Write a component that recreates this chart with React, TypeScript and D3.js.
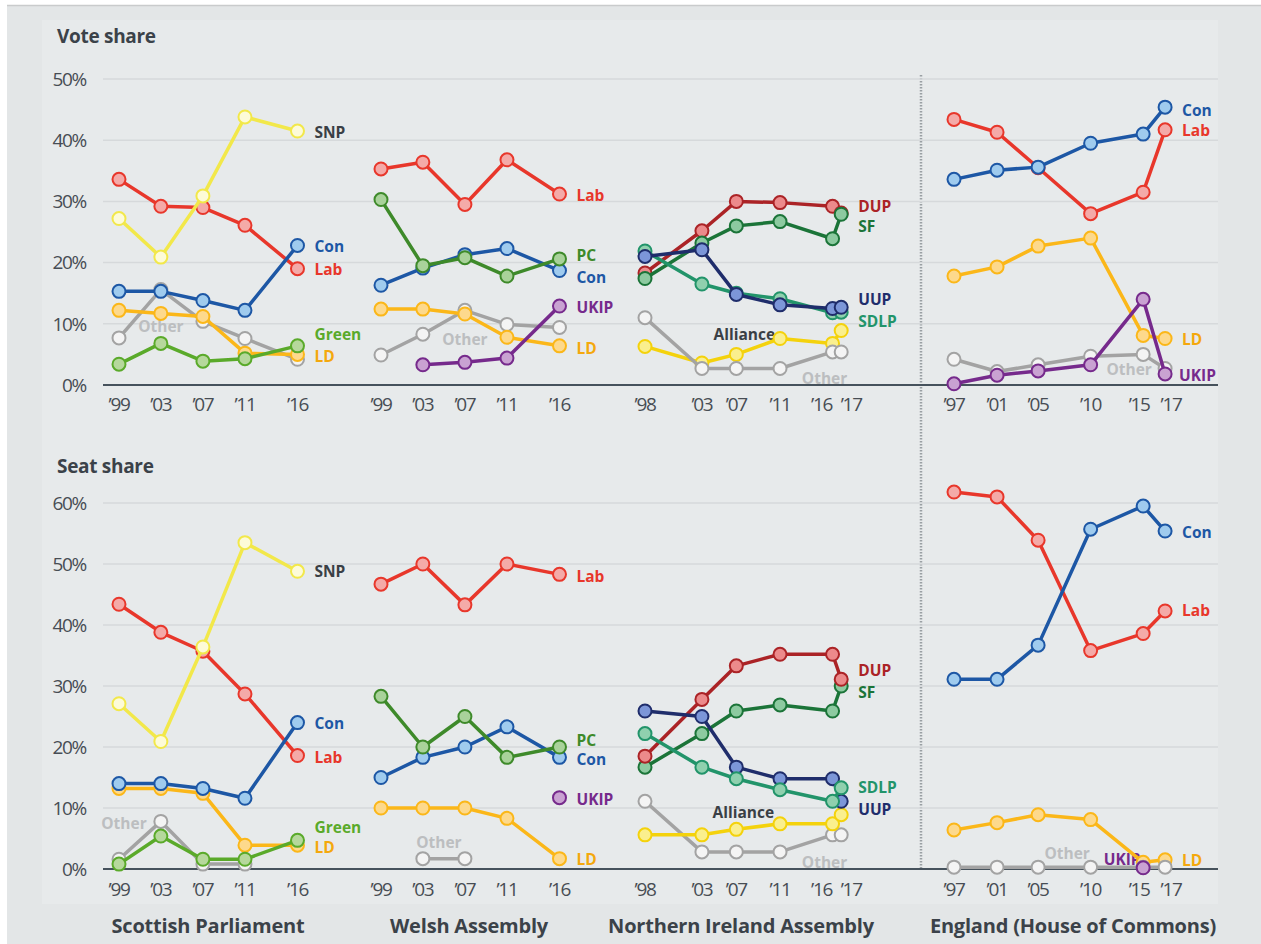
import React from 'react';
import * as d3 from 'd3';

// election dates per body
const scotDates = ['1999-05-06', '2003-05-01', '2007-05-03', '2011-05-05', '2016-05-05'];
const walesDates = ['1999-05-06', '2003-05-01', '2007-05-03', '2011-05-05', '2016-05-05'];
const niDates = ['1998-06-25', '2003-11-26', '2007-03-07', '2011-05-05', '2016-05-05', '2017-03-02'];
const engDates = ['1997-05-01', '2001-06-07', '2005-05-05', '2010-05-06', '2015-05-07', '2017-06-08'];

const scotTicks = ['’99', '’03', '’07', '’11', '’16'];
const walesTicks = ['’99', '’03', '’07', '’11', '’16'];
const niTicks = ['’98', '’03', '’07', '’11', '’16', '’17'];
const engTicks = ['’97', '’01', '’05', '’10', '’15', '’17'];

const voteTicks = [0, 10, 20, 30, 40, 50];
const seatTicks = [0, 10, 20, 30, 40, 50, 60];

// vote share (%)
const scotVoteOther = [7.7, 15.6, 10.4, 7.6, 4.2];
const scotVoteLD = [12.2, 11.7, 11.2, 5.2, 5.0];
const scotVoteGreen = [3.4, 6.8, 3.9, 4.3, 6.4];
const scotVoteLab = [33.6, 29.2, 29.0, 26.1, 19.0];
const scotVoteSNP = [27.2, 20.9, 30.9, 43.8, 41.5];
const scotVoteCon = [15.3, 15.3, 13.8, 12.2, 22.8];

const walesVoteOther = [4.9, 8.3, 12.2, 9.9, 9.4];
const walesVoteLD = [12.4, 12.4, 11.6, 7.8, 6.4];
const walesVoteCon = [16.3, 19.1, 21.3, 22.3, 18.7];
const walesVotePC = [30.3, 19.5, 20.8, 17.8, 20.6];
const walesVoteLab = [35.3, 36.4, 29.5, 36.8, 31.2];
const walesVoteUKIP = [null, 3.3, 3.7, 4.4, 12.9];

const niVoteAlliance = [6.3, 3.6, 5.0, 7.6, 6.8, 8.9];
const niVoteOther = [11.0, 2.7, 2.7, 2.7, 5.4, 5.4];
const niVoteDUP = [18.3, 25.2, 30.0, 29.8, 29.2, 28.1];
const niVoteSF = [17.4, 23.2, 26.0, 26.7, 23.9, 27.9];
const niVoteSDLP = [21.9, 16.5, 15.0, 14.1, 11.8, 11.9];
const niVoteUUP = [21.0, 22.1, 14.8, 13.1, 12.5, 12.7];

const engVoteOther = [4.2, 2.2, 3.3, 4.7, 5.0, 2.7];
const engVoteLD = [17.8, 19.3, 22.7, 24.0, 8.1, 7.6];
const engVoteLab = [43.4, 41.3, 35.5, 28.0, 31.5, 41.7];
const engVoteCon = [33.6, 35.1, 35.6, 39.5, 41.0, 45.4];
const engVoteUKIP = [0.2, 1.6, 2.3, 3.3, 14.0, 1.8];

// seat share (%)
const scotSeatOther = [1.6, 7.8, 0.8, 0.8, null];
const scotSeatLD = [13.2, 13.2, 12.4, 3.9, 3.9];
const scotSeatGreen = [0.8, 5.4, 1.6, 1.6, 4.7];
const scotSeatLab = [43.4, 38.8, 35.7, 28.7, 18.6];
const scotSeatSNP = [27.1, 20.9, 36.4, 53.5, 48.8];
const scotSeatCon = [14.0, 14.0, 13.2, 11.6, 24.0];

const walesSeatOther = [null, 1.7, 1.7, null, null];
const walesSeatLD = [10.0, 10.0, 10.0, 8.3, 1.7];
const walesSeatCon = [15.0, 18.3, 20.0, 23.3, 18.3];
const walesSeatPC = [28.3, 20.0, 25.0, 18.3, 20.0];
const walesSeatLab = [46.7, 50.0, 43.3, 50.0, 48.3];
const walesSeatUKIP = [null, null, null, null, 11.7];

const niSeatOther = [11.1, 2.8, 2.8, 2.8, 5.6, 5.6];
const niSeatAlliance = [5.6, 5.6, 6.5, 7.4, 7.4, 8.9];
const niSeatSF = [16.7, 22.2, 25.9, 26.9, 25.9, 30.0];
const niSeatDUP = [18.5, 27.8, 33.3, 35.2, 35.2, 31.1];
const niSeatUUP = [25.9, 25.0, 16.7, 14.8, 14.8, 11.1];
const niSeatSDLP = [22.2, 16.7, 14.8, 13.0, 11.1, 13.3];

const engSeatLD = [6.4, 7.6, 8.9, 8.1, 1.1, 1.5];
const engSeatOther = [0.3, 0.3, 0.3, 0.3, 0.3, 0.3];
const engSeatUKIP = [null, null, null, null, 0.2, null];
const engSeatLab = [61.8, 61.0, 53.9, 35.8, 38.6, 42.3];
const engSeatCon = [31.1, 31.1, 36.7, 55.7, 59.5, 55.4];

const STYLE: Record<string, { line: string; fill: string; text: string }> = {
  Lab: { line: '#e8372b', fill: '#f4aaa8', text: '#e8372b' },
  Con: { line: '#1d57a5', fill: '#9fcbee', text: '#1d57a5' },
  SNP: { line: '#f2e84a', fill: '#fdfbd8', text: '#3a3f45' },
  LD: { line: '#fbb719', fill: '#fdd98c', text: '#f4a80d' },
  Green: { line: '#5aaa2a', fill: '#b6d89c', text: '#5aaa2a' },
  Other: { line: '#a3a3a3', fill: '#f4f4f4', text: '#bcbec0' },
  PC: { line: '#3e8a2a', fill: '#a9d29a', text: '#3e8a2a' },
  UKIP: { line: '#762a8c', fill: '#c9a2d2', text: '#762a8c' },
  DUP: { line: '#ab2326', fill: '#ec8a8b', text: '#ab2326' },
  SF: { line: '#1b7438', fill: '#8dcaa0', text: '#1b7438' },
  UUP: { line: '#1f2d6b', fill: '#7c96d8', text: '#1f2d6b' },
  SDLP: { line: '#22946a', fill: '#8fd0ae', text: '#22946a' },
  Alliance: { line: '#f4d20c', fill: '#faef8e', text: '#3a3f45' },
};

type Series = { party: string; values: (number | null)[] };
type Label = { text: string; party: string; at?: number; dx?: number; y: number; mid?: boolean };

const panels = [
  {
    title: 'Scottish Parliament', dates: scotDates, ticks: scotTicks, x0: 119, tickShift: [0, 0, 0, 0, 0],
    vote: [
      { party: 'Other', values: scotVoteOther }, { party: 'LD', values: scotVoteLD },
      { party: 'Green', values: scotVoteGreen }, { party: 'Lab', values: scotVoteLab },
      { party: 'SNP', values: scotVoteSNP }, { party: 'Con', values: scotVoteCon },
    ],
    voteLabels: [
      { text: 'SNP', party: 'SNP', y: 41.3 }, { text: 'Con', party: 'Con', y: 22.7 },
      { text: 'Lab', party: 'Lab', y: 18.8 }, { text: 'Green', party: 'Green', y: 8.3 },
      { text: 'LD', party: 'LD', y: 4.7 }, { text: 'Other', party: 'Other', at: 1, dx: 0, y: 9.6, mid: true },
    ],
    seat: [
      { party: 'Other', values: scotSeatOther }, { party: 'LD', values: scotSeatLD },
      { party: 'Green', values: scotSeatGreen }, { party: 'Lab', values: scotSeatLab },
      { party: 'SNP', values: scotSeatSNP }, { party: 'Con', values: scotSeatCon },
    ],
    seatLabels: [
      { text: 'SNP', party: 'SNP', y: 48.7 }, { text: 'Con', party: 'Con', y: 23.8 },
      { text: 'Lab', party: 'Lab', y: 18.2 }, { text: 'Green', party: 'Green', y: 6.8 },
      { text: 'LD', party: 'LD', y: 3.5 }, { text: 'Other', party: 'Other', at: 0, dx: 5, y: 7.4, mid: true },
    ],
  },
  {
    title: 'Welsh Assembly', dates: walesDates, ticks: walesTicks, x0: 381, tickShift: [0, 0, 0, 0, 0],
    vote: [
      { party: 'Other', values: walesVoteOther }, { party: 'LD', values: walesVoteLD },
      { party: 'Con', values: walesVoteCon }, { party: 'PC', values: walesVotePC },
      { party: 'Lab', values: walesVoteLab }, { party: 'UKIP', values: walesVoteUKIP },
    ],
    voteLabels: [
      { text: 'Lab', party: 'Lab', y: 31.0 }, { text: 'PC', party: 'PC', y: 21.1 },
      { text: 'Con', party: 'Con', y: 17.6 }, { text: 'UKIP', party: 'UKIP', y: 12.7 },
      { text: 'LD', party: 'LD', y: 6.0 }, { text: 'Other', party: 'Other', at: 2, dx: 0, y: 7.4, mid: true },
    ],
    seat: [
      { party: 'Other', values: walesSeatOther }, { party: 'LD', values: walesSeatLD },
      { party: 'Con', values: walesSeatCon }, { party: 'PC', values: walesSeatPC },
      { party: 'Lab', values: walesSeatLab }, { party: 'UKIP', values: walesSeatUKIP },
    ],
    seatLabels: [
      { text: 'Lab', party: 'Lab', y: 48.0 }, { text: 'PC', party: 'PC', y: 21.1 },
      { text: 'Con', party: 'Con', y: 17.9 }, { text: 'UKIP', party: 'UKIP', y: 11.3 },
      { text: 'LD', party: 'LD', y: 1.5 }, { text: 'Other', party: 'Other', at: 1, dx: 16, y: 4.3, mid: true },
    ],
  },
  {
    title: 'Northern Ireland Assembly', dates: niDates, ticks: niTicks, x0: 645, tickShift: [0, 0, 0, 0, -11, 10],
    vote: [
      { party: 'Alliance', values: niVoteAlliance }, { party: 'Other', values: niVoteOther },
      { party: 'DUP', values: niVoteDUP }, { party: 'SF', values: niVoteSF },
      { party: 'SDLP', values: niVoteSDLP }, { party: 'UUP', values: niVoteUUP },
    ],
    voteLabels: [
      { text: 'DUP', party: 'DUP', y: 29.1 }, { text: 'SF', party: 'SF', y: 25.9 },
      { text: 'UUP', party: 'UUP', y: 13.9 }, { text: 'SDLP', party: 'SDLP', y: 10.3 },
      { text: 'Alliance', party: 'Alliance', at: 2, dx: 8, y: 8.2, mid: true },
      { text: 'Other', party: 'Other', at: 4, dx: -8, y: 1.1, mid: true },
    ],
    seat: [
      { party: 'Other', values: niSeatOther }, { party: 'Alliance', values: niSeatAlliance },
      { party: 'SF', values: niSeatSF }, { party: 'DUP', values: niSeatDUP },
      { party: 'UUP', values: niSeatUUP }, { party: 'SDLP', values: niSeatSDLP },
    ],
    seatLabels: [
      { text: 'DUP', party: 'DUP', y: 32.5 }, { text: 'SF', party: 'SF', y: 28.9 },
      { text: 'SDLP', party: 'SDLP', y: 13.4 }, { text: 'UUP', party: 'UUP', y: 9.7 },
      { text: 'Alliance', party: 'Alliance', at: 2, dx: 7, y: 9.3, mid: true },
      { text: 'Other', party: 'Other', at: 4, dx: -8, y: 1.0, mid: true },
    ],
  },
  {
    title: 'England (House of Commons)', dates: engDates, ticks: engTicks, x0: 954, tickShift: [0, 0, 0, 0, -4, 6],
    vote: [
      { party: 'Other', values: engVoteOther }, { party: 'LD', values: engVoteLD },
      { party: 'Lab', values: engVoteLab }, { party: 'Con', values: engVoteCon },
      { party: 'UKIP', values: engVoteUKIP },
    ],
    voteLabels: [
      { text: 'Con', party: 'Con', y: 44.9 }, { text: 'Lab', party: 'Lab', y: 41.5 },
      { text: 'LD', party: 'LD', y: 7.4 }, { text: 'UKIP', party: 'UKIP', y: 1.6, dx: -3 },
      { text: 'Other', party: 'Other', at: 4, dx: -14, y: 2.5, mid: true },
    ],
    seat: [
      { party: 'LD', values: engSeatLD }, { party: 'Other', values: engSeatOther },
      { party: 'UKIP', values: engSeatUKIP }, { party: 'Lab', values: engSeatLab },
      { party: 'Con', values: engSeatCon },
    ],
    seatLabels: [
      { text: 'Con', party: 'Con', y: 55.2 }, { text: 'Lab', party: 'Lab', y: 42.3 },
      { text: 'LD', party: 'LD', y: 1.3 },
      { text: 'UKIP', party: 'UKIP', at: 4, dx: -21, y: 1.6, mid: true },
      { text: 'Other', party: 'Other', at: 2, dx: 29, y: 2.6, mid: true },
    ],
  },
];

const W = 1261;
const H = 944;
const YEAR_PX = 10.5;
const GRID_X0 = 103;
const GRID_X1 = 1218;
const FONT = '"Open Sans", sans-serif';
const INK = '#3b4249';
const TICK_INK = '#474d54';
const titleX = [208, 469, 741, 1073];

const parse = d3.timeParse('%Y-%m-%d');

function makeX(dates: string[], x0: number) {
  const d = dates.map(s => parse(s) as Date);
  const first = d[0];
  const last = d[d.length - 1];
  const years = (+last - +first) / (365.25 * 864e5);
  return d3.scaleTime().domain([first, last]).range([x0, x0 + years * YEAR_PX]);
}

function Row({ top, bottom, max, ticks, heading, headingY, seriesKey, labelKey, tickY }: any) {
  const y = d3.scaleLinear().domain([0, max]).range([bottom, top]);
  return (
    <g>
      <text x={57} y={headingY} dy="0.35em" fontSize={19} fontWeight={700} fill={INK} fontFamily={FONT}
        letterSpacing={-0.3}>{heading}</text>
      {ticks.map((t: number) => (
        <g key={t}>
          {t > 0 && <line x1={GRID_X0} x2={GRID_X1} y1={y(t)} y2={y(t)} stroke="#d6d9db" strokeWidth={1.5} />}
          <text x={86} y={y(t)} dy="0.36em" textAnchor="end" fontSize={19} fontWeight={500}
            letterSpacing={-1.3} fill={TICK_INK} fontFamily={FONT}>{t}%</text>
        </g>
      ))}
      <line x1={GRID_X0} x2={GRID_X1} y1={y(0)} y2={y(0)} stroke="#46525c" strokeWidth={2} />
      {panels.map(p => {
        const x = makeX(p.dates, p.x0);
        const dates = p.dates.map(s => parse(s) as Date);
        const series: Series[] = p[seriesKey as 'vote'];
        const labels: Label[] = p[labelKey as 'voteLabels'];
        const lastX = x(dates[dates.length - 1]);
        const line = d3.line<number | null>()
          .defined(v => v != null)
          .x((_, i) => x(dates[i]))
          .y(v => y(v as number));
        return (
          <g key={p.title}>
            {p.ticks.map((t, i) => (
              <text key={t + i} x={x(dates[i]) + p.tickShift[i]} y={tickY} textAnchor="middle" fontSize={19}
                fontWeight={500} letterSpacing={-1.3} fill={TICK_INK} fontFamily={FONT}>{t}</text>
            ))}
            {labels.map(l => {
              const lx = l.at != null ? x(dates[l.at]) + (l.dx || 0) : lastX + 17 + (l.dx || 0);
              return (
                <text key={l.text} x={lx} y={y(l.y)} dy="0.35em" textAnchor={l.mid ? 'middle' : 'start'}
                  fontSize={15.5} fontWeight={700} fill={STYLE[l.party].text} fontFamily={FONT}>{l.text}</text>
              );
            })}
            {series.map(s => {
              const st = STYLE[s.party];
              return (
                <g key={s.party}>
                  <path d={line(s.values) || ''} fill="none" stroke={st.line} strokeWidth={3.5}
                    strokeLinejoin="round" />
                  {s.values.map((v, i) => v == null ? null : (
                    <circle key={i} cx={x(dates[i])} cy={y(v)} r={6.5} fill={st.fill} stroke={st.line} strokeWidth={2} />
                  ))}
                </g>
              );
            })}
          </g>
        );
      })}
    </g>
  );
}

export default function App() {
  return (
    <svg width={W} height={H} style={{ position: 'absolute', left: 0, top: 0, display: 'block' }}>
      <rect x={0} y={0} width={W} height={H} fill="#ffffff" />
      <rect x={7} y={5} width={W - 7} height={H - 5} fill="#e3e6e7" />
      <line x1={7} x2={W} y1={5.5} y2={5.5} stroke="#c9cbcc" strokeWidth={1.5} />
      <rect x={42} y={20} width={1176} height={884} fill="#e7eaeb" />
      <line x1={921} x2={921} y1={75} y2={868} stroke="#9aa0a4" strokeWidth={2.5} strokeDasharray="1.5 1.5" />
      <Row top={79} bottom={385} max={50} ticks={voteTicks} heading="Vote share" headingY={36}
        seriesKey="vote" labelKey="voteLabels" tickY={411} />
      <Row top={503} bottom={869} max={60} ticks={seatTicks} heading="Seat share" headingY={466}
        seriesKey="seat" labelKey="seatLabels" tickY={896} />
      {panels.map((p, i) => (
        <text key={p.title} x={titleX[i]} y={933} textAnchor="middle" fontSize={20}
          fontWeight={700} letterSpacing={-0.2} fill={INK} fontFamily={FONT}>{p.title}</text>
      ))}
    </svg>
  );
}
